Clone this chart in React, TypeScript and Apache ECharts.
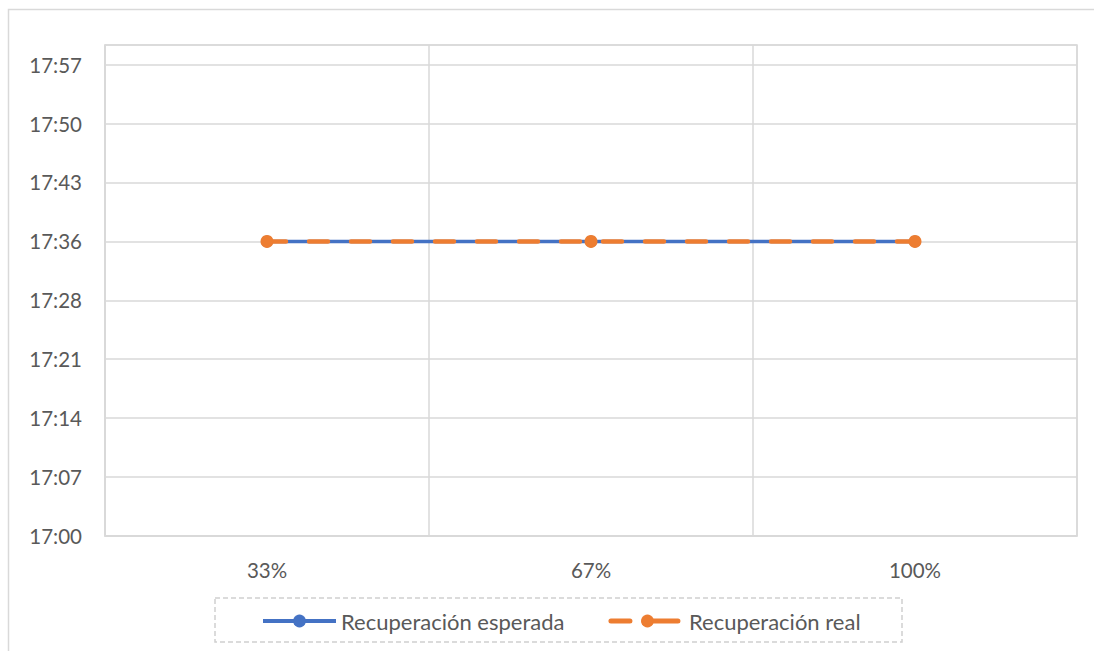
import React, { useEffect, useRef } from "react";
import * as echarts from "echarts";

const categories = ["33%", "67%", "100%"];
const expectedTimes = ["17:36", "17:36", "17:36"];
const realTimes = ["17:36", "17:36", "17:36"];
const seriesNames = ["Recuperación esperada", "Recuperación real"];
const axisBaseHour = 17;
const axisMinMinutes = 0;
const axisMaxMinutes = 60;
const axisIntervalMinutes = 7.2;

const toMinutes = (t: string) => {
  const [h, m] = t.split(":").map(Number);
  return (h - axisBaseHour) * 60 + m;
};

const fmt = (v: number) => {
  const total = Math.floor(v + 1e-6);
  const h = axisBaseHour + Math.floor(total / 60);
  const m = total % 60;
  return `${h}:${m.toString().padStart(2, "0")}`;
};

const FONT = "Lato, 'Open Sans', sans-serif";
const BLUE = "#4472C4";
const ORANGE = "#ED7D31";

export default function App() {
  const ref = useRef<HTMLDivElement>(null);
  useEffect(() => {
    if (!ref.current) return;
    const chart = echarts.init(ref.current, undefined, { renderer: "svg" });
    chart.setOption({
      animation: false,
      backgroundColor: "#ffffff",
      textStyle: { fontFamily: FONT },
      grid: { left: 105, right: 17, top: 45, bottom: 115, show: true, borderColor: "#D9D9D9", borderWidth: 1.5 },
      xAxis: {
        type: "category",
        data: categories,
        boundaryGap: true,
        axisLine: { show: true, lineStyle: { color: "#D9D9D9", width: 1.5 } },
        axisTick: { show: false },
        axisLabel: { color: "#595959", fontSize: 20.5, margin: 23, fontFamily: FONT },
        splitLine: { show: true, interval: 0, lineStyle: { color: "#D9D9D9", width: 1.5 } },
      },
      yAxis: {
        type: "value",
        min: axisMinMinutes,
        max: axisMaxMinutes,
        interval: axisIntervalMinutes,
        axisLine: { show: true, lineStyle: { color: "#D9D9D9", width: 1.5 } },
        axisTick: { show: false },
        axisLabel: {
          color: "#595959",
          fontSize: 20.5,
          margin: 23,
          fontFamily: FONT,
          showMaxLabel: false,
          formatter: (v: number) => (v >= axisMaxMinutes ? "" : fmt(v)),
        },
        splitLine: { show: true, lineStyle: { color: "#D9D9D9", width: 1.5 } },
      },
      legend: {
        left: 256,
        top: 605,
        itemWidth: 73,
        itemHeight: 16,
        itemGap: 44,
        textStyle: { color: "#595959", fontSize: 22, fontFamily: FONT },
        data: [
          {
            name: seriesNames[0],
            lineStyle: { width: 4, color: BLUE, type: "solid" },
            itemStyle: { color: BLUE },
          },
          {
            name: seriesNames[1],
            lineStyle: { width: 5, color: ORANGE, type: [19, 14, 34, 100], cap: "round" },
            itemStyle: { color: ORANGE },
          },
        ],
      },
      graphic: [
        {
          type: "rect",
          shape: { x: 8.5, y: 9.5, width: 1200, height: 800 },
          style: { fill: "none", stroke: "#D9D9D9", lineWidth: 1.5 },
          silent: true,
        },
        {
          type: "rect",
          shape: { x: 215, y: 598, width: 687, height: 44 },
          style: { fill: "none", stroke: "#D0D0D0", lineWidth: 1.5, lineDash: [5, 3] },
          silent: true,
        },
      ],
      series: [
        {
          name: seriesNames[0],
          type: "line",
          data: expectedTimes.map(toMinutes),
          symbol: "circle",
          symbolSize: 12,
          itemStyle: { color: BLUE },
          lineStyle: { color: BLUE, width: 3.5 },
          z: 2,
        },
        {
          name: seriesNames[1],
          type: "line",
          data: realTimes.map(toMinutes),
          symbol: "circle",
          symbolSize: 13,
          itemStyle: { color: ORANGE },
          lineStyle: { color: ORANGE, width: 4.5, type: [19, 23], cap: "round" },
          z: 3,
        },
      ],
    });
    return () => chart.dispose();
  }, []);
  return (
    <div
      ref={ref}
      style={{ position: "absolute", left: 0, top: 0, width: 1094, height: 651 }}
    />
  );
}
